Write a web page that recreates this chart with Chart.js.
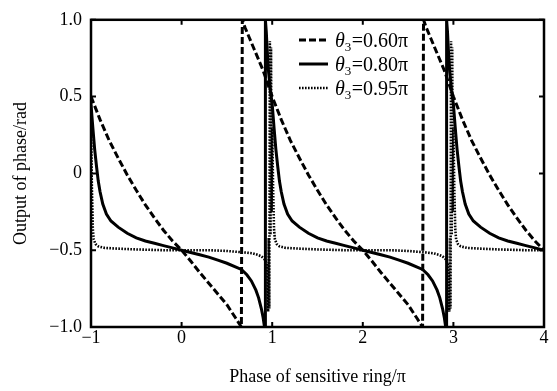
<!DOCTYPE html>
<html>
<head>
<meta charset="utf-8">
<script src="https://cdn.jsdelivr.net/npm/chart.js@4.4.1/dist/chart.umd.min.js"></script>
<style>
  html, body { margin: 0; padding: 0; background: #fff; }
  #wrap { width: 557px; height: 391px; }
</style>
</head>
<body>
<div id="wrap"><canvas id="phaseChart" width="557" height="391"></canvas></div>
<script>
// x = phase of sensitive ring (units of pi), y = output phase (rad)
const xTicks = [-1, 0, 1, 2, 3, 4];
const yTicks = [-1.0, -0.5, 0, 0.5, 1.0];
const thetaValues = ['0.60π', '0.80π', '0.95π'];

// theta3 = 0.60 pi (dashed)
const x060 = [
  -1, -0.9, -0.8, -0.7, -0.6, -0.5, -0.4, -0.3, -0.2, -0.1, 0, 0.1, 0.2, 0.3, 0.4, 0.5, 0.6, 0.66, 0.67, 0.7, 0.75, 0.8, 0.85, 0.9, 0.95,
  1, 1.1, 1.2, 1.3, 1.4, 1.5, 1.6, 1.7, 1.8, 1.9, 2, 2.1, 2.2, 2.3, 2.4, 2.5, 2.6, 2.66, 2.67, 2.7, 2.75, 2.8, 2.85, 2.9, 2.95,
  3, 3.1, 3.2, 3.3, 3.4, 3.5, 3.6, 3.7, 3.8, 3.9, 4];
const y060 = [
  0.50, 0.35, 0.215, 0.10, -0.01, -0.11, -0.205, -0.29, -0.37, -0.44, -0.50, -0.57, -0.645, -0.715, -0.785, -0.855, -0.945, -1.0, 1.0, 0.95, 0.88, 0.81, 0.74, 0.67, 0.585,
  0.50, 0.35, 0.215, 0.10, -0.01, -0.11, -0.205, -0.29, -0.37, -0.44, -0.50, -0.57, -0.645, -0.715, -0.785, -0.855, -0.945, -1.0, 1.0, 0.95, 0.88, 0.81, 0.74, 0.67, 0.585,
  0.50, 0.35, 0.215, 0.10, -0.01, -0.11, -0.205, -0.29, -0.37, -0.44, -0.50];

// theta3 = 0.80 pi (solid)
const x080 = [
  -1, -0.98, -0.96, -0.94, -0.92, -0.9, -0.87, -0.83, -0.78, -0.7, -0.6, -0.5, -0.4, -0.3, -0.2, -0.1, 0, 0.1, 0.2, 0.3, 0.4, 0.5, 0.6, 0.66, 0.72, 0.77, 0.82, 0.85, 0.88, 0.9, 0.915, 0.925, 0.925, 0.935, 0.945, 0.96, 0.98,
  1, 1.02, 1.04, 1.06, 1.08, 1.1, 1.13, 1.17, 1.22, 1.3, 1.4, 1.5, 1.6, 1.7, 1.8, 1.9, 2, 2.1, 2.2, 2.3, 2.4, 2.5, 2.6, 2.66, 2.72, 2.77, 2.82, 2.85, 2.88, 2.9, 2.915, 2.925, 2.925, 2.935, 2.945, 2.96, 2.98,
  3, 3.02, 3.04, 3.06, 3.08, 3.1, 3.13, 3.17, 3.22, 3.3, 3.4, 3.5, 3.6, 3.7, 3.8, 3.9, 4];
const y080 = [
  0.45, 0.30, 0.16, 0.05, -0.05, -0.12, -0.20, -0.265, -0.31, -0.35, -0.39, -0.42, -0.44, -0.455, -0.47, -0.485, -0.50, -0.515, -0.53, -0.545, -0.565, -0.585, -0.61, -0.625, -0.66, -0.70, -0.76, -0.81, -0.88, -0.94, -1.0, -1.0, 1.0, 0.92, 0.80, 0.66, 0.54,
  0.45, 0.30, 0.16, 0.05, -0.05, -0.12, -0.20, -0.265, -0.31, -0.35, -0.39, -0.42, -0.44, -0.455, -0.47, -0.485, -0.50, -0.515, -0.53, -0.545, -0.565, -0.585, -0.61, -0.625, -0.66, -0.70, -0.76, -0.81, -0.88, -0.94, -1.0, -1.0, 1.0, 0.92, 0.80, 0.66, 0.54,
  0.45, 0.30, 0.16, 0.05, -0.05, -0.12, -0.20, -0.265, -0.31, -0.35, -0.39, -0.42, -0.44, -0.455, -0.47, -0.485, -0.50];

// theta3 = 0.95 pi (dotted), with the fast swings just before each odd pi
const x095 = [
  -1, -0.99, -0.98, -0.97, -0.95, -0.92, -0.85, -0.7, -0.5, -0.2, 0, 0.3, 0.5, 0.6, 0.7, 0.78, 0.84, 0.88, 0.91, 0.935,
  0.948, 0.955, 0.962, 0.968, 0.974, 0.981, 0.987, 0.993,
  1, 1.01, 1.02, 1.03, 1.05, 1.08, 1.15, 1.3, 1.5, 1.8, 2, 2.3, 2.5, 2.6, 2.7, 2.78, 2.84, 2.88, 2.91, 2.935,
  2.948, 2.955, 2.962, 2.968, 2.974, 2.981, 2.987, 2.993,
  3, 3.01, 3.02, 3.03, 3.05, 3.08, 3.15, 3.3, 3.5, 3.8, 4];
const y095 = [
  0.30, -0.10, -0.36, -0.43, -0.46, -0.475, -0.485, -0.49, -0.495, -0.50, -0.50, -0.50, -0.505, -0.51, -0.515, -0.52, -0.53, -0.54, -0.555, -0.58,
  -0.64, -0.90, -0.42, -0.88, 0.86, -0.40, 0.82, -0.25,
  0.30, -0.10, -0.36, -0.43, -0.46, -0.475, -0.485, -0.49, -0.495, -0.50, -0.50, -0.50, -0.505, -0.51, -0.515, -0.52, -0.53, -0.54, -0.555, -0.58,
  -0.64, -0.90, -0.42, -0.88, 0.86, -0.40, 0.82, -0.25,
  0.30, -0.10, -0.36, -0.43, -0.46, -0.475, -0.485, -0.49, -0.495, -0.50, -0.50];

const serif = "'Liberation Serif', 'Times New Roman', serif";

function toPoints(xs, ys) {
  return xs.map((x, i) => ({ x: x, y: ys[i] }));
}

function minusSign(str) {
  return str.replace('-', '\u2212');
}

const lineStyles = [
  { width: 3, dash: [7, 3] },
  { width: 3, dash: [] },
  { width: 2.6, dash: [1.6, 1.4] }
];

// box round the plot with small inward ticks, like the original figure
const framePlugin = {
  id: 'frame',
  afterDatasetsDraw(chart) {
    const { ctx, chartArea: a, scales: { x, y } } = chart;
    ctx.save();
    ctx.strokeStyle = '#000';
    ctx.lineWidth = 2.5;
    ctx.setLineDash([]);
    ctx.strokeRect(a.left, a.top, a.right - a.left, a.bottom - a.top);
    ctx.lineWidth = 2;
    const len = 5;
    ctx.beginPath();
    xTicks.forEach(v => {
      const px = x.getPixelForValue(v);
      ctx.moveTo(px, a.bottom); ctx.lineTo(px, a.bottom - len);
      ctx.moveTo(px, a.top); ctx.lineTo(px, a.top + len);
    });
    yTicks.forEach(v => {
      const py = y.getPixelForValue(v);
      ctx.moveTo(a.left, py); ctx.lineTo(a.left + len, py);
      ctx.moveTo(a.right, py); ctx.lineTo(a.right - len, py);
    });
    ctx.stroke();
    ctx.restore();
  }
};

// legend with italic theta and subscript 3
const legendPlugin = {
  id: 'thetaLegend',
  afterDraw(chart) {
    const ctx = chart.ctx;
    const rowY = [40, 64, 88];
    ctx.save();
    chart.data.datasets.forEach((ds, i) => {
      const yy = rowY[i];
      ctx.strokeStyle = '#000';
      ctx.lineWidth = lineStyles[i].width;
      ctx.setLineDash(lineStyles[i].dash);
      ctx.beginPath();
      ctx.moveTo(299, yy);
      ctx.lineTo(328, yy);
      ctx.stroke();
      ctx.setLineDash([]);

      ctx.fillStyle = '#000';
      ctx.textBaseline = 'alphabetic';
      ctx.textAlign = 'left';
      const base = yy + 7;
      let tx = 335;
      ctx.font = 'italic 20px ' + serif;
      ctx.fillText('θ', tx, base);
      tx += ctx.measureText('θ').width;
      ctx.font = '13px ' + serif;
      ctx.fillText('3', tx, base + 4);
      tx += ctx.measureText('3').width + 0.5;
      ctx.font = '20px ' + serif;
      ctx.fillText('=' + thetaValues[i], tx, base);
    });
    ctx.restore();
  }
};

const datasets = [
  toPoints(x060, y060),
  toPoints(x080, y080),
  toPoints(x095, y095)
].map((pts, i) => ({
  label: 'θ3=' + thetaValues[i],
  data: pts,
  borderColor: '#000',
  backgroundColor: '#000',
  borderWidth: lineStyles[i].width,
  borderDash: lineStyles[i].dash,
  borderCapStyle: 'butt',
  pointRadius: 0,
  tension: 0,
  fill: false
}));

const ctx = document.getElementById('phaseChart').getContext('2d');
new Chart(ctx, {
  type: 'line',
  data: { datasets: datasets },
  options: {
    responsive: false,
    animation: false,
    devicePixelRatio: 1,
    layout: { padding: { top: 15, right: 13, left: 0, bottom: 0 } },
    plugins: {
      legend: { display: false },
      tooltip: { enabled: false }
    },
    scales: {
      x: {
        type: 'linear',
        min: -1,
        max: 4,
        afterBuildTicks: scale => { scale.ticks = xTicks.map(v => ({ value: v })); },
        afterFit: scale => { scale.height = 64; },
        grid: { display: false, drawTicks: false },
        border: { display: false },
        ticks: {
          color: '#000',
          font: { family: serif, size: 18 },
          padding: 0,
          maxRotation: 0,
          autoSkip: false,
          callback: v => minusSign(String(v))
        },
        title: {
          display: true,
          text: 'Phase of sensitive ring/π',
          color: '#000',
          font: { family: serif, size: 18 },
          padding: { top: 0, bottom: 3 }
        }
      },
      y: {
        type: 'linear',
        min: -1,
        max: 1,
        afterBuildTicks: scale => { scale.ticks = yTicks.map(v => ({ value: v })); },
        afterFit: scale => { scale.width = 91; },
        grid: { display: false, drawTicks: false },
        border: { display: false },
        ticks: {
          color: '#000',
          font: { family: serif, size: 18 },
          padding: 9,
          callback: v => (v === 0 ? '0' : minusSign(v.toFixed(1)))
        },
        title: {
          display: true,
          text: 'Output of phase/rad',
          color: '#000',
          font: { family: serif, size: 18 },
          padding: { top: 10, bottom: 0 }
        }
      }
    }
  },
  plugins: [framePlugin, legendPlugin]
});
</script>
</body>
</html>
